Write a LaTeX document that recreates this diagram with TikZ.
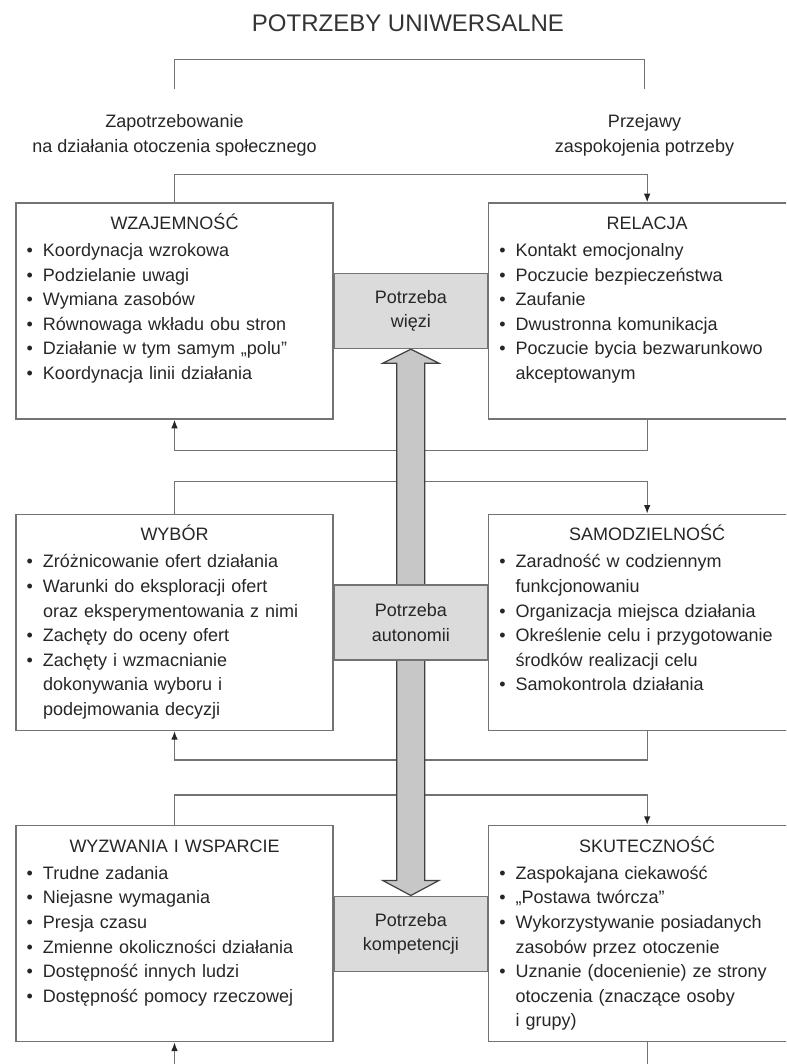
\documentclass[tikz,border=0pt]{standalone}
\usepackage{fontspec}
\setmainfont{Liberation Sans}
\usetikzlibrary{positioning, calc, arrows.meta, backgrounds}
\definecolor{ramka}{gray}{0.45}
\definecolor{szary}{gray}{0.86}
\definecolor{trzon}{gray}{0.78}
\newcommand{\tytul}[1]{\makebox[\linewidth]{#1}\par\vspace{1.8pt}}
\newcommand{\pkt}[1]{\par\hangindent=12.25pt\hangafter=1\makebox[12.25pt][l]{\textbullet}#1\par}

\begin{document}
\begin{tikzpicture}[
    x=0.75pt, y=-0.75pt,
    every node/.style={font=\fontsize{13.5}{18.45}\selectfont, text=black!85},
    pole/.style={draw=ramka, line width=1pt, align=left, text width=221.75pt, inner xsep=8pt, inner ysep=0pt, text height=19.9pt, text depth=142.1pt},
    potrzeba/.style={draw=ramka, line width=1pt, fill=szary, align=center, minimum width=114.75pt, minimum height=56.25pt, inner sep=0pt},
    naglowek/.style={anchor=base, font=\fontsize{18}{22}\selectfont, text=black!80},
    etykieta/.style={anchor=base, align=center, inner sep=2pt},
    linia/.style={draw=ramka, line width=1pt},
    strz/.style={linia, -{Latex[length=6.5pt, width=5pt, color=black!85]}},
    duza/.style={draw=black!75, line width=0.9pt, fill=trzon}
]
\path[use as bounding box, clip] (0,0) rectangle (786,1064);

\node[naglowek] (tytul) at (408,31.5) {POTRZEBY UNIWERSALNE};
\node[etykieta] (zap) at (174.5,152) {Zapotrzebowanie\\na działania otoczenia społecznego};
\node[etykieta] (prz) at (644.5,152) {Przejawy\\zaspokojenia potrzeby};

% wiersz 1
\node[pole] (wza) at (174.5,311) {\tytul{WZAJEMNOŚĆ}
  \pkt{Koordynacja wzrokowa}
  \pkt{Podzielanie uwagi}
  \pkt{Wymiana zasobów}
  \pkt{Równowaga wkładu obu stron}
  \pkt{Działanie w tym samym „polu”}
  \pkt{Koordynacja linii działania}};
\node[potrzeba, right=0pt of wza] (wiez) {Potrzeba\\więzi};
\node[pole, right=0pt of wiez] (rel) {\tytul{RELACJA}
  \pkt{Kontakt emocjonalny}
  \pkt{Poczucie bezpieczeństwa}
  \pkt{Zaufanie}
  \pkt{Dwustronna komunikacja}
  \pkt{Poczucie bycia bezwarunkowo\newline akceptowanym}};

% wiersz 2
\node[pole, below=70.5pt of wza] (wyb) {\tytul{WYBÓR}
  \pkt{Zróżnicowanie ofert działania}
  \pkt{Warunki do eksploracji ofert\newline oraz eksperymentowania z nimi}
  \pkt{Zachęty do oceny ofert}
  \pkt{Zachęty i wzmacnianie\newline dokonywania wyboru i\newline podejmowania decyzji}};
\node[potrzeba, right=0pt of wyb] (auto) {Potrzeba\\autonomii};
\node[pole, right=0pt of auto] (sam) {\tytul{SAMODZIELNOŚĆ}
  \pkt{Zaradność w codziennym\newline funkcjonowaniu}
  \pkt{Organizacja miejsca działania}
  \pkt{Określenie celu i przygotowanie\newline środków realizacji celu}
  \pkt{Samokontrola działania}};

% wiersz 3
\node[pole, below=70.5pt of wyb] (wyz) {\tytul{WYZWANIA I WSPARCIE}
  \pkt{Trudne zadania}
  \pkt{Niejasne wymagania}
  \pkt{Presja czasu}
  \pkt{Zmienne okoliczności działania}
  \pkt{Dostępność innych ludzi}
  \pkt{Dostępność pomocy rzeczowej}};
\node[potrzeba, right=0pt of wyz] (komp) {Potrzeba\\kompetencji};
\node[pole, right=0pt of komp] (sku) {\tytul{SKUTECZNOŚĆ}
  \pkt{Zaspokajana ciekawość}
  \pkt{„Postawa twórcza”}
  \pkt{Wykorzystywanie posiadanych\newline zasobów przez otoczenie}
  \pkt{Uznanie (docenienie) ze strony\newline otoczenia (znaczące osoby\newline i grupy)}};

\coordinate (dolL) at ($(wyz.south)+(0,40)$);
\coordinate (dolP) at ($(sku.south)+(0,40)$);

\draw[linia] (zap.north) ++(0,-22) -- ++(0,-30) -| ($(prz.north)+(0,-22)$);

\begin{scope}[on background layer]
\draw[strz] (wza.north) -- ++(0,-28) -| (rel.north);
\draw[strz] (rel.south) -- ++(0,31) -| (wza.south);
\draw[strz] (wyb.north) -- ++(0,-32) -| (sam.north);
\draw[strz] (sam.south) -- ++(0,29) -| (wyb.south);
\draw[strz] (wyz.north) -- ++(0,-30) -| (sku.north);
\draw[strz] (dolL) -- (wyz.south);
\draw[linia] (sku.south) -- (dolP);
\draw[duza] (wiez.south) -- ++(28,14) -- ++(-14,0) -- ($(komp.north)+(14,-15)$) -- ++(14,0) -- (komp.north)
  -- ++(-28,-15) -- ++(14,0) -- ($(wiez.south)+(-14,14)$) -- ++(-14,0) -- cycle;
\end{scope}

\end{tikzpicture}
\end{document}
